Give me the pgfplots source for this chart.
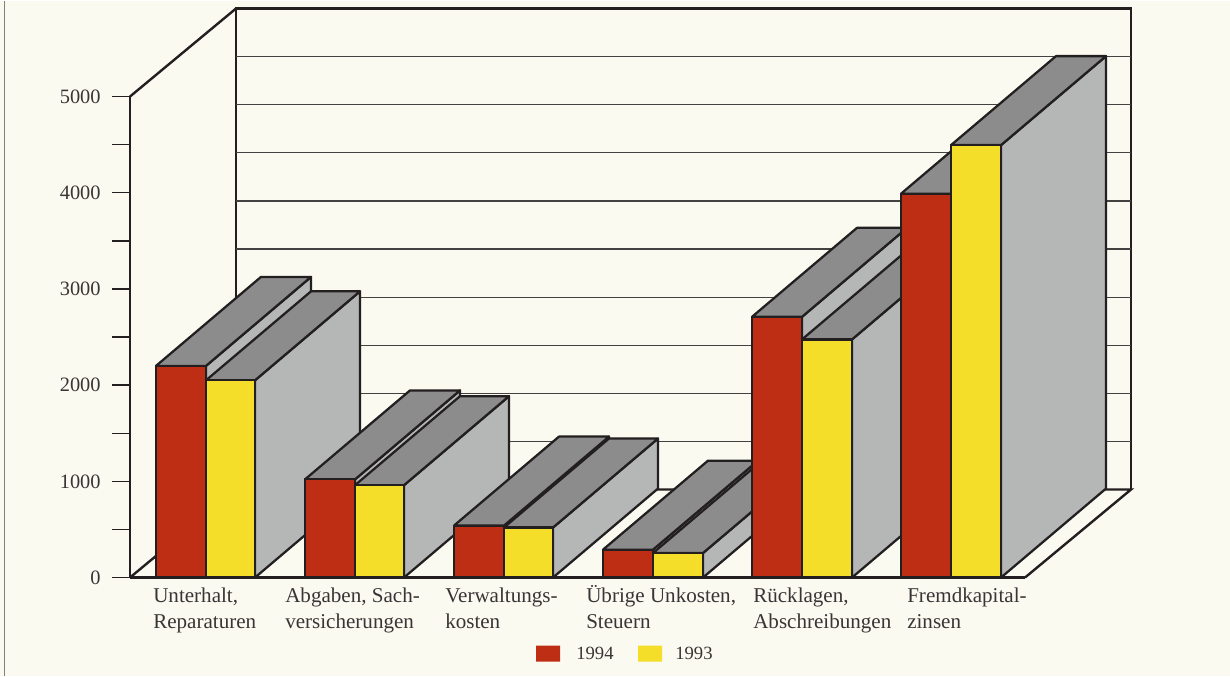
\documentclass[border=0pt]{standalone}
\usepackage{pgfplots}
\pgfplotsset{compat=1.18}
\usepackage{fontspec}
\setmainfont{Liberation Serif}
\definecolor{pagebg}{HTML}{FBFAF1}
\definecolor{ink}{HTML}{231F20}
\definecolor{barred}{HTML}{BE2E14}
\definecolor{baryel}{HTML}{F5DE2A}
\definecolor{topgray}{HTML}{8B8C8B}
\definecolor{sidegray}{HTML}{B5B7B6}
% oblique 3D bar: x0, x1, value, colour (depth: 105 px across, 925 value units up)
\newcommand{\backbar}[3]{%
  \pgfmathsetmacro{\xa}{#1+105}\pgfmathsetmacro{\xb}{#2+105}\pgfmathsetmacro{\vb}{#3+925}%
  \addplot[draw=ink,line width=1.7pt,line join=round,fill=sidegray] coordinates {(#2,0) (#2,#3) (\xb,\vb) (\xb,925) (#2,0)};
  \addplot[draw=ink,line width=1.7pt,line join=round,fill=topgray] coordinates {(#1,#3) (#2,#3) (\xb,\vb) (\xa,\vb) (#1,#3)};
}
\newcommand{\frontbar}[4]{%
  \addplot[draw=ink,line width=1.6pt,line join=miter,fill=#4] coordinates {(#1,0) (#1,#3) (#2,#3) (#2,0) (#1,0)};
}
\newcommand{\group}[7]{% x0 x1 x2 v1 v2
  \backbar{#1}{#2}{#4}\backbar{#2}{#3}{#5}%
  \frontbar{#1}{#2}{#4}{barred}\frontbar{#2}{#3}{#5}{baryel}%
}
\begin{document}
\begin{tikzpicture}
\fill[pagebg] (0,0) rectangle (922.5pt,506.25pt);
\draw[gray,line width=0.8pt] (3.4pt,0) -- (3.4pt,506.25pt);
\begin{axis}[
  at={(97.5pt,73.5pt)},anchor=south west,
  scale only axis,width=671.25pt,height=360.75pt,
  xmin=130,xmax=1025,ymin=0,ymax=5000,clip=false,
  axis x line*=bottom,axis y line*=left,
  axis line style={-,draw=ink,line width=1.8pt},
  ytick={0,1000,2000,3000,4000,5000},
  minor ytick={500,1500,2500,3500,4500},
  tick align=outside,
  major tick length=13.5pt,minor tick length=13.5pt,
  tick style={draw=ink,line width=1pt},
  xtick={153,285,445,586,753,907},
  xticklabels={{\vphantom{Ü}Unterhalt,\\Reparaturen},{\vphantom{Ü}Abgaben, Sach-\\versicherungen},{\vphantom{Ü}Verwaltungs-\\kosten},{Übrige Unkosten,\\Steuern},{\vphantom{Ü}Rücklagen,\\Abschreibungen},{\vphantom{Ü}Fremdkapital-\\zinsen}},
  x tick style={draw=none},
  major x tick style={draw=none},
  x tick label style={align=left,anchor=north west,inner xsep=0pt,inner ysep=0pt,yshift=7.5pt,
     font=\fontsize{15.8}{19.5}\selectfont,text=ink!90},
  y tick label style={font=\fontsize{15.3}{19.5}\selectfont,text=ink!90,xshift=-5pt},
  /pgf/number format/assume math mode=true,
  /pgf/number format/1000 sep={},
]
% floor and back wall
\addplot[draw=ink,line width=1.8pt] coordinates {(130,0) (236,915) (1131,915) (1025,0)};
\addplot[draw=ink,line width=1.8pt] coordinates {(236,915) (236,5915) (1131,5915) (1131,915)};
\addplot[draw=ink,line width=1.8pt] coordinates {(130,5000) (236,5915)};
% gridlines on the back wall
\addplot[draw=ink!85,line width=0.9pt] coordinates {(236,1415) (1131,1415)};
\addplot[draw=ink!85,line width=0.9pt] coordinates {(236,1915) (1131,1915)};
\addplot[draw=ink!85,line width=0.9pt] coordinates {(236,2415) (1131,2415)};
\addplot[draw=ink!85,line width=0.9pt] coordinates {(236,2915) (1131,2915)};
\addplot[draw=ink!85,line width=0.9pt] coordinates {(236,3415) (1131,3415)};
\addplot[draw=ink!85,line width=0.9pt] coordinates {(236,3915) (1131,3915)};
\addplot[draw=ink!85,line width=0.9pt] coordinates {(236,4415) (1131,4415)};
\addplot[draw=ink!85,line width=0.9pt] coordinates {(236,4915) (1131,4915)};
\addplot[draw=ink!85,line width=0.9pt] coordinates {(236,5415) (1131,5415)};
% bars: 1994, 1993
\group{156}{206}{255}{2200}{2050}{}{}
\group{305}{355}{404}{1020}{960}{}{}
\group{454}{504}{553}{540}{520}{}{}
\group{603}{653}{703}{290}{255}{}{}
\group{752}{802}{852}{2710}{2475}{}{}
\group{901}{951}{1001}{3990}{4495}{}{}
% legend
\addplot[draw=none,fill=barred] coordinates {(536,-707) (560,-707) (560,-873) (536,-873) (536,-707)};
\addplot[draw=none,fill=baryel] coordinates {(638,-707) (662,-707) (662,-873) (638,-873) (638,-707)};
\node[anchor=west,inner sep=0pt,font=\fontsize{14}{19.5}\selectfont,text=ink!90] at (axis cs:576,-790) {1994};
\node[anchor=west,inner sep=0pt,font=\fontsize{14}{19.5}\selectfont,text=ink!90] at (axis cs:675,-790) {1993};
\end{axis}
\end{tikzpicture}
\end{document}
